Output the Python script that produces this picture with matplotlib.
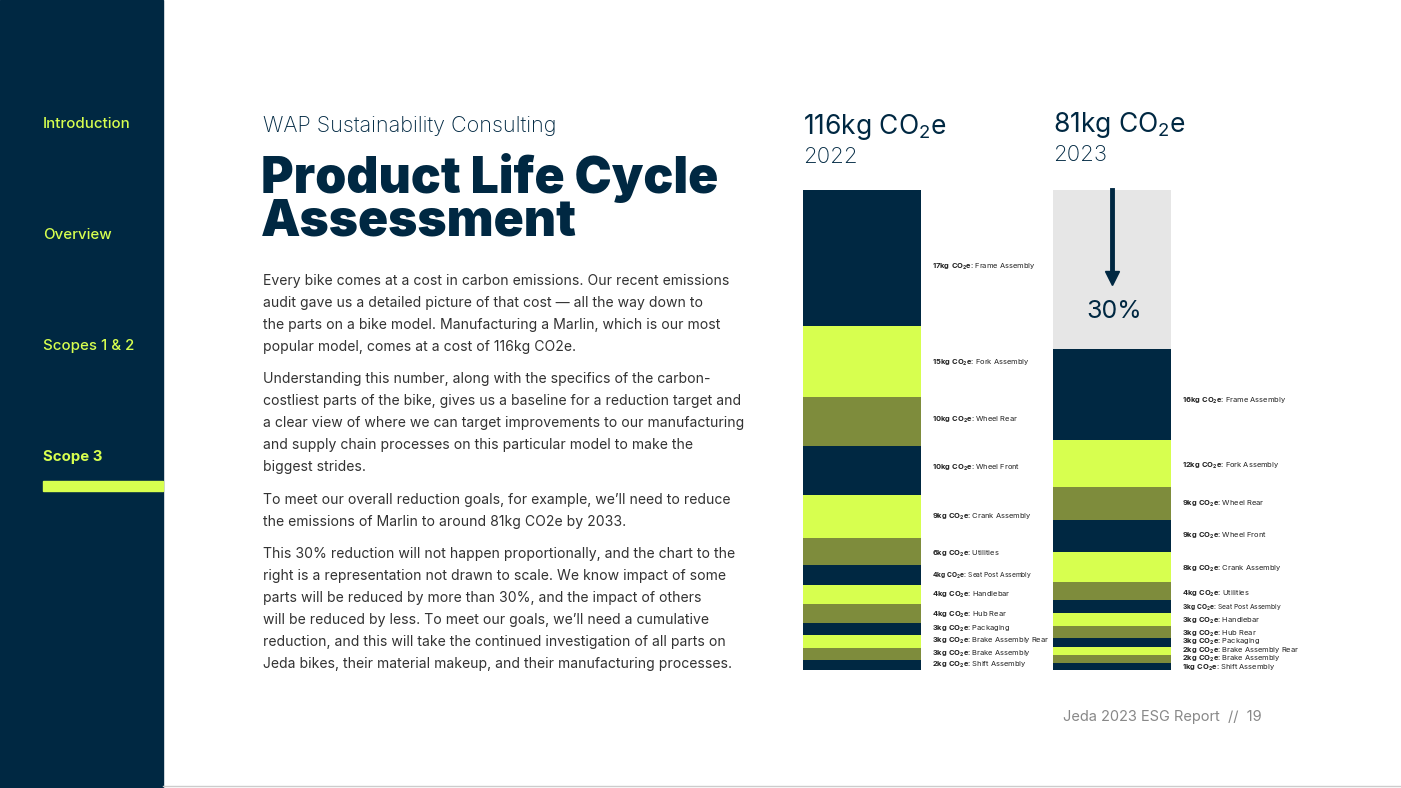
import matplotlib
matplotlib.use("Agg")
import matplotlib.pyplot as plt
from matplotlib.patches import Rectangle

plt.rcParams['font.family'] = ['Inter', 'DejaVu Sans']
plt.rcParams['mathtext.fontset'] = 'custom'
plt.rcParams['mathtext.rm'] = 'Inter'
plt.rcParams['mathtext.bf'] = 'Inter:bold'

NAVY = '#002842'; LIME = '#d7ff4f'; OLIVE = '#7e8c3c'; GRAY = '#e6e6e6'

parts = ["Frame Assembly", "Fork Assembly", "Wheel Rear", "Wheel Front", "Crank Assembly",
         "Utilities", "Seat Post Assembly", "Handlebar", "Hub Rear", "Packaging",
         "Brake Assembly Rear", "Brake Assembly", "Shift Assembly"]
kg_2022 = [17, 15, 10, 10, 9, 6, 4, 4, 4, 3, 3, 3, 2]
kg_2023 = [16, 12, 9, 9, 8, 4, 3, 3, 3, 3, 2, 2, 1]
# displayed segment heights (chart "not drawn to scale")
disp_2022 = [136, 71, 49, 49, 43, 27, 20, 19, 19, 12, 13, 12, 10]
disp_2023 = [91, 47, 33, 32, 30, 18, 13, 13, 12, 9, 8, 8, 7]
reduction_disp = 159
label_y_2022 = [267, 363, 420, 468, 517, 554, 576, 595, 615, 629, 641, 654, 665]
label_y_2023 = [401, 466, 504, 536, 569, 594, 608, 621, 634, 642, 651, 659, 668]
colors = [NAVY, LIME, OLIVE, NAVY, LIME, OLIVE, NAVY, LIME, OLIVE, NAVY, LIME, OLIVE, NAVY]

fig = plt.figure(figsize=(14.01, 7.88), dpi=100)
ax = fig.add_axes([0, 0, 1, 1])
ax.set_xlim(0, 1401); ax.set_ylim(788, 0); ax.axis('off')

# sidebar
ax.add_patch(Rectangle((0, 0), 163, 788, color=NAVY))
for t, y in [("Introduction", 124), ("Overview", 235), ("Scopes 1 & 2", 346), ("Scope 3", 457)]:
    ax.text(43, y, t, color=LIME, fontsize=10.8, va='center', weight='medium' if t != "Scope 3" else 'bold')
ax.add_patch(Rectangle((43, 481), 120, 10, color=LIME))

ax.text(263, 126, "WAP Sustainability Consulting", color=NAVY, fontsize=15.5, va='center', weight='light')
ax.text(261, 178, "Product Life Cycle", color=NAVY, fontsize=35.8, va='center', weight='black')
ax.text(261, 222, "Assessment", color=NAVY, fontsize=35.8, va='center', weight='black')

paras = [
 ["Every bike comes at a cost in carbon emissions. Our recent emissions",
  "audit gave us a detailed picture of that cost \u2014 all the way down to",
  "the parts on a bike model. Manufacturing a Marlin, which is our most",
  "popular model, comes at a cost of 116kg CO2e."],
 ["Understanding this number, along with the specifics of the carbon-",
  "costliest parts of the bike, gives us a baseline for a reduction target and",
  "a clear view of where we can target improvements to our manufacturing",
  "and supply chain processes on this particular model to make the",
  "biggest strides."],
 ["To meet our overall reduction goals, for example, we\u2019ll need to reduce",
  "the emissions of Marlin to around 81kg CO2e by 2033."],
 ["This 30% reduction will not happen proportionally, and the chart to the",
  "right is a representation not drawn to scale. We know impact of some",
  "parts will be reduced by more than 30%, and the impact of others",
  "will be reduced by less. To meet our goals, we\u2019ll need a cumulative",
  "reduction, and this will take the continued investigation of all parts on",
  "Jeda bikes, their material makeup, and their manufacturing processes."]]
starts = [281, 379, 500, 554]
for p, y0 in zip(paras, starts):
    for i, line in enumerate(p):
        ax.text(263, y0 + i * 22, line, color='#333333', fontsize=10.1, va='center')

# headers
ax.text(803, 127, r"116kg CO$_2$e", color=NAVY, fontsize=19, va='center')
ax.text(803, 157, "2022", color=NAVY, fontsize=16, va='center', weight='light')
ax.text(1053, 125, r"81kg CO$_2$e", color=NAVY, fontsize=19, va='center')
ax.text(1053, 155, "2023", color=NAVY, fontsize=16, va='center', weight='light')

def stack(x0, top, disp, kg, ly):
    b = top
    for h, c in zip(disp, colors):
        ax.bar(x0, h, bottom=b, width=118, align='edge', color=c, linewidth=0)
        b += h
    for k, name, y in zip(kg, parts, ly):
        small = name == "Seat Post Assembly"
        ax.text(x0 + 129, y, rf"$\mathbf{{{k}kg\ CO_2e}}$:" + " " + name, color='#222222',
                fontsize=4.8 if small else 5.4, va='center')

stack(803, 190, disp_2022, kg_2022, label_y_2022)
ax.bar(1053, reduction_disp, bottom=190, width=118, align='edge', color=GRAY, linewidth=0)
stack(1053, 190 + reduction_disp, disp_2023, kg_2023, label_y_2023)
ax.plot([1112, 1112], [190, 276], color=NAVY, lw=3.5)
ax.plot([1112], [278], marker='v', color=NAVY, markersize=10)
ax.text(1114, 311, "30%", color=NAVY, fontsize=18, ha='center', va='center')

ax.text(1063, 717, "Jeda 2023 ESG Report  //  19", color='#888888', fontsize=10.5, va='center')
ax.plot([163, 1401], [786, 786], color='#cccccc', lw=1)

fig.savefig("out.png", dpi=100)
